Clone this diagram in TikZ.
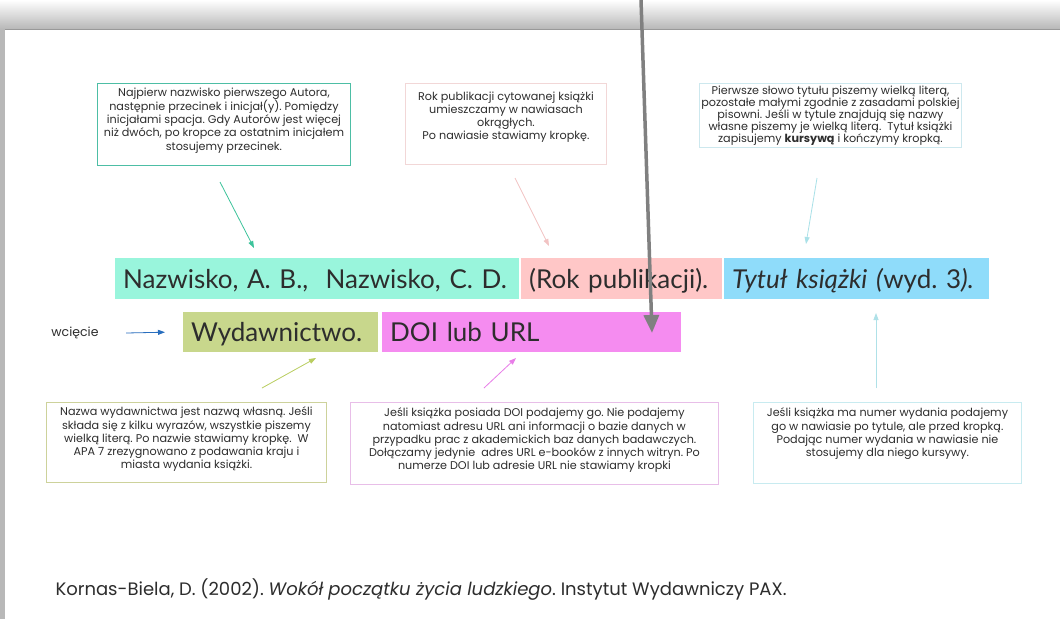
\documentclass[tikz,border=0pt]{standalone}
\usepackage{fontspec}
\setmainfont{Poppins}
\newfontfamily\paseklato{Lato}
\usetikzlibrary{arrows.meta}
\frenchspacing
\definecolor{mieta}{RGB}{153,245,220}
\definecolor{roz}{RGB}{255,199,199}
\definecolor{niebo}{RGB}{143,220,250}
\definecolor{oliwka}{RGB}{200,215,140}
\definecolor{magenta1}{RGB}{245,140,240}
\definecolor{tekst}{RGB}{45,45,45}
\definecolor{ramka1}{RGB}{77,190,165}
\definecolor{ramka2}{RGB}{242,215,215}
\definecolor{ramka3}{RGB}{205,232,238}
\definecolor{ramka4}{RGB}{205,210,155}
\definecolor{ramka5}{RGB}{232,190,232}
\definecolor{ramka6}{RGB}{200,235,240}
\definecolor{strz1}{RGB}{60,195,155}
\definecolor{strz2}{RGB}{242,195,195}
\definecolor{strz3}{RGB}{170,225,232}
\definecolor{strz4}{RGB}{185,205,95}
\definecolor{strz5}{RGB}{232,125,232}
\definecolor{strz6}{RGB}{175,225,232}
\definecolor{wciecieniebieski}{RGB}{40,110,190}
\tikzset{
  opis/.style={draw, line width=0.9pt, align=center, anchor=north west, inner sep=0pt,
    text=tekst, font=\fontsize{11.2}{13.2}\selectfont},
  opisgesty/.style={opis, font=\fontsize{11.2}{12}\selectfont},
  pasek/.style={anchor=north west, inner xsep=8pt, inner ysep=0pt, align=left,
    minimum height=41pt, text height=18.7pt, text depth=0pt, text=tekst,
    font=\paseklato\fontsize{26}{30}\selectfont},
  grot/.style={-{Triangle[length=7pt,width=5pt]}, line width=0.8pt}
}
\begin{document}
\begin{tikzpicture}[x=1pt, y=-1pt]
  \useasboundingbox (0,0) rectangle (1060,619);
  \fill[white] (0,0) rectangle (1060,619);
  \shade[top color=white, bottom color=black!28] (0,0) rectangle (1060,29);
  \fill[black!28] (0,29) rectangle (5,619);
  \draw[black!40, line width=1pt] (5,29.5) -- (1060,29.5);

  \node[opis, draw=ramka1, minimum width=253pt, minimum height=82pt] (autor) at (97,83)
    {Najpierw nazwisko pierwszego Autora,\\ następnie przecinek i inicjał(y). Pomiędzy\\ inicjałami spacja. Gdy Autorów jest więcej\\ niż dwóch, po kropce za ostatnim inicjałem\\ stosujemy przecinek.\\[-2pt]};
  \node[opis, draw=ramka2, minimum width=201pt, minimum height=81pt] (rok) at (405,83)
    {Rok publikacji cytowanej książki\\ umieszczamy w nawiasach\\ okrągłych.\\ Po nawiasie stawiamy kropkę.\\[3pt]};
  \node[opisgesty, draw=ramka3, minimum width=262pt, minimum height=64pt] (tytul) at (699,83)
    {Pierwsze słowo tytułu piszemy wielką literą,\\ pozostałe małymi zgodnie z zasadami polskiej\\ pisowni. Jeśli w tytule znajdują się nazwy\\ własne piszemy je wielką literą.\ \ Tytuł książki\\ zapisujemy \textbf{kursywą} i kończymy kropką.};

  \node[pasek, fill=mieta, text width=388pt] (autorzy) at (115,258) {Nazwisko, A. B.,\ \ Nazwisko, C. D.};
  \node[pasek, fill=roz, text width=185pt] (rokpub) at (521,258) {(Rok publikacji).};
  \node[pasek, fill=niebo, text width=249pt] (ksiazka) at (724,258) {\textit{Tytuł książki (}wyd. 3\textit{).}};
  \node[pasek, fill=oliwka, text width=179pt, minimum height=40pt] (wydawnictwo) at (183,312) {Wydawnictwo.};
  \node[pasek, fill=magenta1, text width=283pt, minimum height=40pt] (doi) at (382,312) {DOI lub URL};

  \node[text=tekst, font=\fontsize{12.5}{15}\selectfont] (wciecie) at (75,333) {wcięcie};
  \draw[grot, wciecieniebieski] ([xshift=24pt]wciecie.east) -- ([xshift=-18pt]wydawnictwo.west);

  \node[opis, draw=ramka4, minimum width=280pt, minimum height=80pt] (wyd) at (46,402)
    {Nazwa wydawnictwa jest nazwą własną. Jeśli\\ składa się z kilku wyrazów, wszystkie piszemy\\ wielką literą. Po nazwie stawiamy kropkę.\ \ W\\ APA 7 zrezygnowano z podawania kraju i\\ miasta wydania książki.\\[-4pt]};
  \node[opis, draw=ramka5, minimum width=368pt, minimum height=82pt] (doiopis) at (350,402)
    {Jeśli książka posiada DOI podajemy go. Nie podajemy\\ natomiast adresu URL ani informacji o bazie danych w\\ przypadku prac z akademickich baz danych badawczych.\\ Dołączamy jedynie\ \ adres URL e-booków z innych witryn. Po\\ numerze DOI lub adresie URL nie stawiamy kropki\\[-4pt]};
  \node[opis, draw=ramka6, minimum width=268pt, minimum height=81pt] (wydanie) at (753,402)
    {Jeśli książka ma numer wydania podajemy\\ go w nawiasie po tytule, ale przed kropką.\\ Podając numer wydania w nawiasie nie\\ stosujemy dla niego kursywy.\\[8pt]};

  \coordinate (a1) at (220,182);
  \coordinate (b1) at (254,248);
  \coordinate (a2) at (515,178);
  \coordinate (b2) at (549,246);
  \coordinate (a3) at (817,178);
  \coordinate (b3) at (806,244);
  \coordinate (a4) at (262,388);
  \coordinate (b4) at (316,358);
  \coordinate (a5) at (484,388);
  \coordinate (b5) at (516,358);
  \coordinate (a6) at (876,388);
  \coordinate (b6) at (876,313);
  \draw[grot, strz1] (a1) -- (b1);
  \draw[grot, strz2] (a2) -- (b2);
  \draw[grot, strz3] (a3) -- (b3);
  \draw[grot, strz4] (a4) -- (b4);
  \draw[grot, strz5] (a5) -- (b5);
  \draw[grot, strz6] (a6) -- (b6);

  \coordinate (gora) at (641,0);
  \coordinate (cel) at (652,333);
  \draw[-{Triangle[length=18pt,width=15pt]}, line width=3.5pt, black!50] (gora) -- (cel);

  \node[anchor=west, text=tekst, font=\fontsize{18}{22}\selectfont] (zrodlo) at (52,590)
    {Kornas-Biela, D. (2002). \textit{Wokół początku życia ludzkiego}. Instytut Wydawniczy PAX.};
\end{tikzpicture}
\end{document}
